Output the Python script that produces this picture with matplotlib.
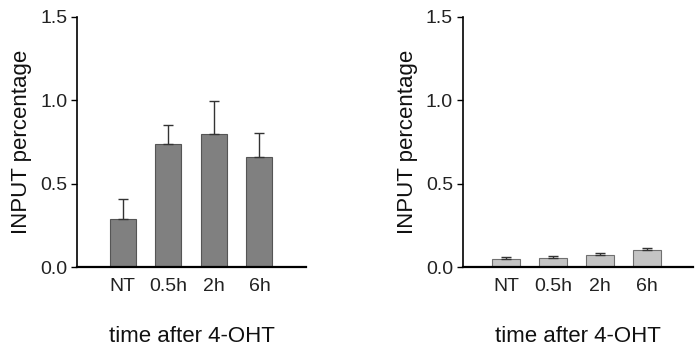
import numpy as np
import matplotlib.pyplot as plt
from matplotlib import rcParams

rcParams['font.family'] = ['Liberation Sans', 'DejaVu Sans']

# data
categories = ['NT', '0.5h', '2h', '6h']
left_values = [0.286, 0.74, 0.796, 0.66]
left_err = [0.12, 0.114, 0.20, 0.146]
right_values = [0.048, 0.054, 0.07, 0.104]
right_err = [0.012, 0.010, 0.016, 0.012]

fig = plt.figure(figsize=(7, 3.6), dpi=100)
ax1 = fig.add_axes([0.11, 0.258, 0.327, 0.695])
ax2 = fig.add_axes([0.661, 0.258, 0.329, 0.695])

panels = [
    (ax1, left_values, left_err, '#808080', '#555555', (-1.0, 4.02), 0.57),
    (ax2, right_values, right_err, '#c4c4c4', '#707070', (-0.92, 3.97), 0.6),
]

x = np.arange(len(categories))
for ax, vals, err, fc, ec, xlim, w in panels:
    ax.bar(x, vals, width=w, color=fc, edgecolor=ec, linewidth=0.8, zorder=2)
    ax.errorbar(x, vals, yerr=[np.zeros(len(err)), err], fmt='none',
                ecolor='#333333', elinewidth=1, capsize=3.5, capthick=1, zorder=3)
    ax.set_xlim(*xlim)
    ax.set_ylim(0, 1.5)
    ax.set_yticks([0.0, 0.5, 1.0, 1.5])
    ax.set_yticklabels(['0.0', '0.5', '1.0', '1.5'])
    ax.set_xticks(x)
    ax.set_xticklabels(categories)
    ax.spines['top'].set_visible(False)
    ax.spines['right'].set_visible(False)
    ax.spines['left'].set_linewidth(1.2)
    ax.spines['bottom'].set_linewidth(1.6)
    ax.tick_params(axis='y', direction='out', length=4, width=1, labelsize=14,
                   pad=3, labelcolor='#222222')
    ax.tick_params(axis='x', length=0, labelsize=14, pad=8, labelcolor='#222222')
    ax.set_ylabel('INPUT percentage', fontsize=16, color='#111111', labelpad=6)
    ax.set_xlabel('time after 4-OHT', fontsize=16, color='#111111', labelpad=22)

plt.savefig('out.png', dpi=100)
plt.close()
